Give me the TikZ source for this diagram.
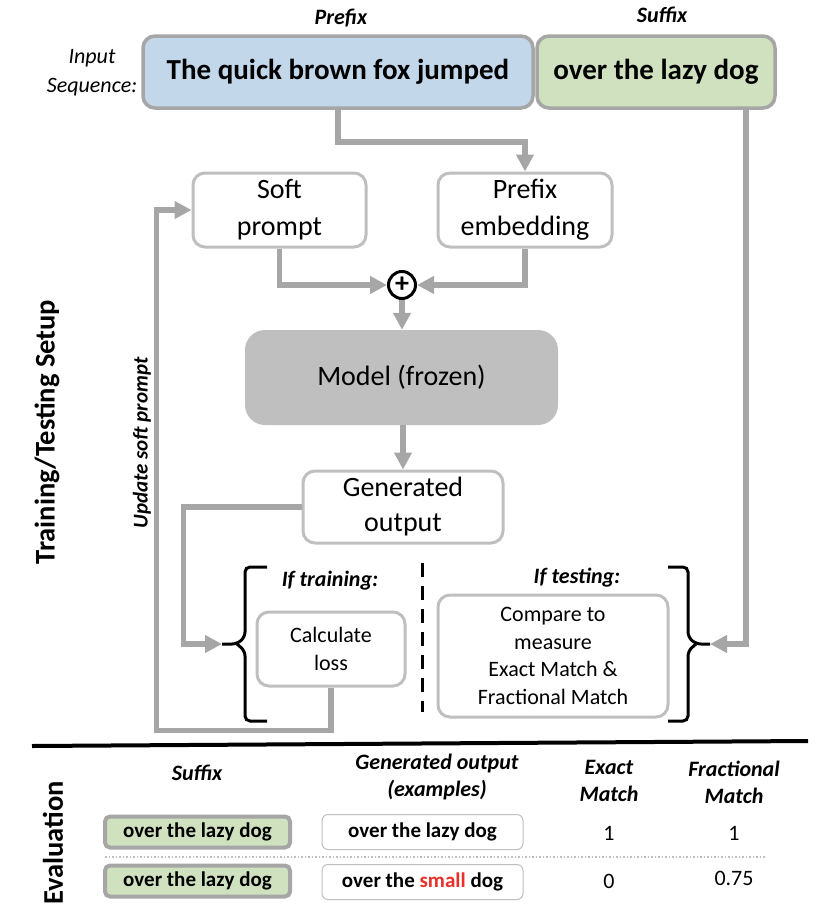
\documentclass[tikz,border=0pt]{standalone}
\usepackage{fontspec}
\setmainfont{Carlito}
\usetikzlibrary{positioning,arrows.meta,calc}

\definecolor{flowgray}{HTML}{A6A6A6}
\definecolor{boxgray}{HTML}{BFBFBF}
\definecolor{prefixblue}{HTML}{C3D7EB}
\definecolor{suffixgreen}{HTML}{CFE1BF}
\definecolor{wrongred}{HTML}{E8302A}

\begin{document}
\begin{tikzpicture}[
  x=1pt, y=-1pt,
  >={Triangle[length=17pt,width=17pt]},
  font=\fontsize{28}{35}\selectfont,
  seqbox/.style={draw=flowgray, line width=3.5pt, rounded corners=12pt, align=center, inner sep=0pt, minimum height=72pt, font=\fontsize{29}{34}\selectfont\bfseries},
  stepbox/.style={draw=boxgray, line width=3pt, rounded corners=12pt, fill=white, align=center, inner sep=0pt},
  smallbox/.style={stepbox, font=\fontsize{22}{27.5}\selectfont},
  flow/.style={->, flowgray, line width=5.5pt},
  brk/.style={black, line width=3pt, rounded corners=5pt},
  hdr/.style={font=\fontsize{22}{27}\selectfont\bfseries\itshape, align=center},
  evsuf/.style={draw=flowgray, line width=4pt, fill=suffixgreen, rounded corners=5pt, minimum width=185pt, minimum height=31pt, inner sep=0pt, font=\fontsize{21}{24}\selectfont\bfseries},
  evgen/.style={draw=boxgray, line width=1pt, fill=white, rounded corners=6pt, minimum width=201pt, minimum height=35pt, inner sep=0pt, font=\fontsize{21}{24}\selectfont\bfseries},
  num/.style={font=\fontsize{22}{25}\selectfont},
  sidetitle/.style={rotate=90, font=\fontsize{28.5}{34}\selectfont\bfseries},
]
\useasboundingbox (0,0) rectangle (820,918);

% Input sequence
\node[seqbox, fill=prefixblue, minimum width=390pt] (prefix) at (338,72) {The quick brown fox jumped};
\node[seqbox, fill=suffixgreen, minimum width=238pt] (suffix) at (656,72) {over the lazy dog};
\node[hdr] (prefixlbl) at (341,18) {Prefix};
\node[hdr] (suffixlbl) at (662,15) {Suffix};
\node[font=\fontsize{22}{29}\selectfont\itshape, align=center] (inseq) at (92,73) {Input\\Sequence:};

% Embeddings and model
\node[stepbox, minimum width=173pt, minimum height=74pt, font=\fontsize{28}{37}\selectfont] (soft) at (279.5,210) {Soft\\prompt};
\node[stepbox, minimum width=174pt, minimum height=74pt, font=\fontsize{28}{37}\selectfont] (embed) at (525,210) {Prefix\\embedding};
\node[draw, circle, line width=3pt, minimum size=27pt, inner sep=0pt, font=\fontsize{28}{28}\selectfont\bfseries] (sum) at (402,285) {+};
\node[fill=boxgray, rounded corners=20pt, minimum width=313pt, minimum height=95pt] (model) at (401.5,377.5) {Model (frozen)};
\node[stepbox, minimum width=200pt, minimum height=72pt] (gen) at (403,507) {Generated\\output};

% Training / testing branches
\node[smallbox, minimum width=148pt, minimum height=74pt] (calc) at (331,649) {Calculate\\loss};
\node[smallbox, minimum width=230pt, minimum height=122pt] (compare) at (553,656) {Compare to\\measure\\Exact Match \&\\Fractional Match};
\node[hdr] (trainlbl) at (330,581) {If training:};
\node[hdr] (testlbl) at (577,578) {If testing:};

\draw[brk] (267,567) -- (245,567) -- (245,637) -- (237,644) -- (222,644);
\draw[brk] (237,644) -- (245,651) -- (245,721) -- (267,721);
\draw[brk] (668,567) -- (688,567) -- (688,637) -- (696,644) -- (710,644);
\draw[brk] (696,644) -- (688,651) -- (688,721) -- (668,721);
\coordinate (trainbrk) at (222,644);
\coordinate (testbrk) at (710,644);
\draw[black, line width=3pt, dash pattern=on 14pt off 9pt] (422,563) -- (422,712);

% Connectors
\draw[flow] (prefix.south) -- ++(0,32) -| (embed.north);
\draw[flow] (soft.south) |- (sum.west);
\draw[flow] (embed.south) |- (sum.east);
\draw[flow] (sum.south) -- (sum.south |- model.north);
\draw[flow] (model.south -| gen.north) -- (gen.north);
\draw[flow] (gen.west) -- ++(-118,0) |- (trainbrk);
\draw[flow] (calc.south) -- ++(0,43) -| ($(soft.west)+(-35,0)$) -- (soft.west);
\draw[flow] ($(suffix.south)+(90,0)$) |- (testbrk);

% Side titles
\node[rotate=90, font=\fontsize{21}{25}\selectfont\bfseries\itshape] (updlbl) at (142,443) {Update soft prompt};
\node[sidetitle] (setuplbl) at (47,432) {Training/Testing Setup};

% Evaluation
\draw[black, line width=4pt] (32,746) -- (808,741);
\node[sidetitle] (evallbl) at (53,843) {Evaluation};
\node[hdr] (hsuf) at (197,773) {Suffix};
\node[hdr] (hgen) at (437,777) {Generated output\\(examples)};
\node[hdr] (hexact) at (609,781) {Exact\\Match};
\node[hdr] (hfrac) at (734,782) {Fractional\\Match};

\node[evsuf] (suf1) at (197.5,832) {over the lazy dog};
\node[evgen] (gen1) at (422.5,832) {over the lazy dog};
\node[num] (ex1) at (609,833) {1};
\node[num] (fr1) at (734,833) {1};
\draw[boxgray, dotted, line width=1.5pt] (105,857) -- (765,857);
\node[evsuf] (suf2) at (197.5,881) {over the lazy dog};
\node[evgen] (gen2) at (422.5,882) {over the \textcolor{wrongred}{small} dog};
\node[num] (ex2) at (609,881) {0};
\node[num] (fr2) at (734,878) {0.75};

\end{tikzpicture}
\end{document}
